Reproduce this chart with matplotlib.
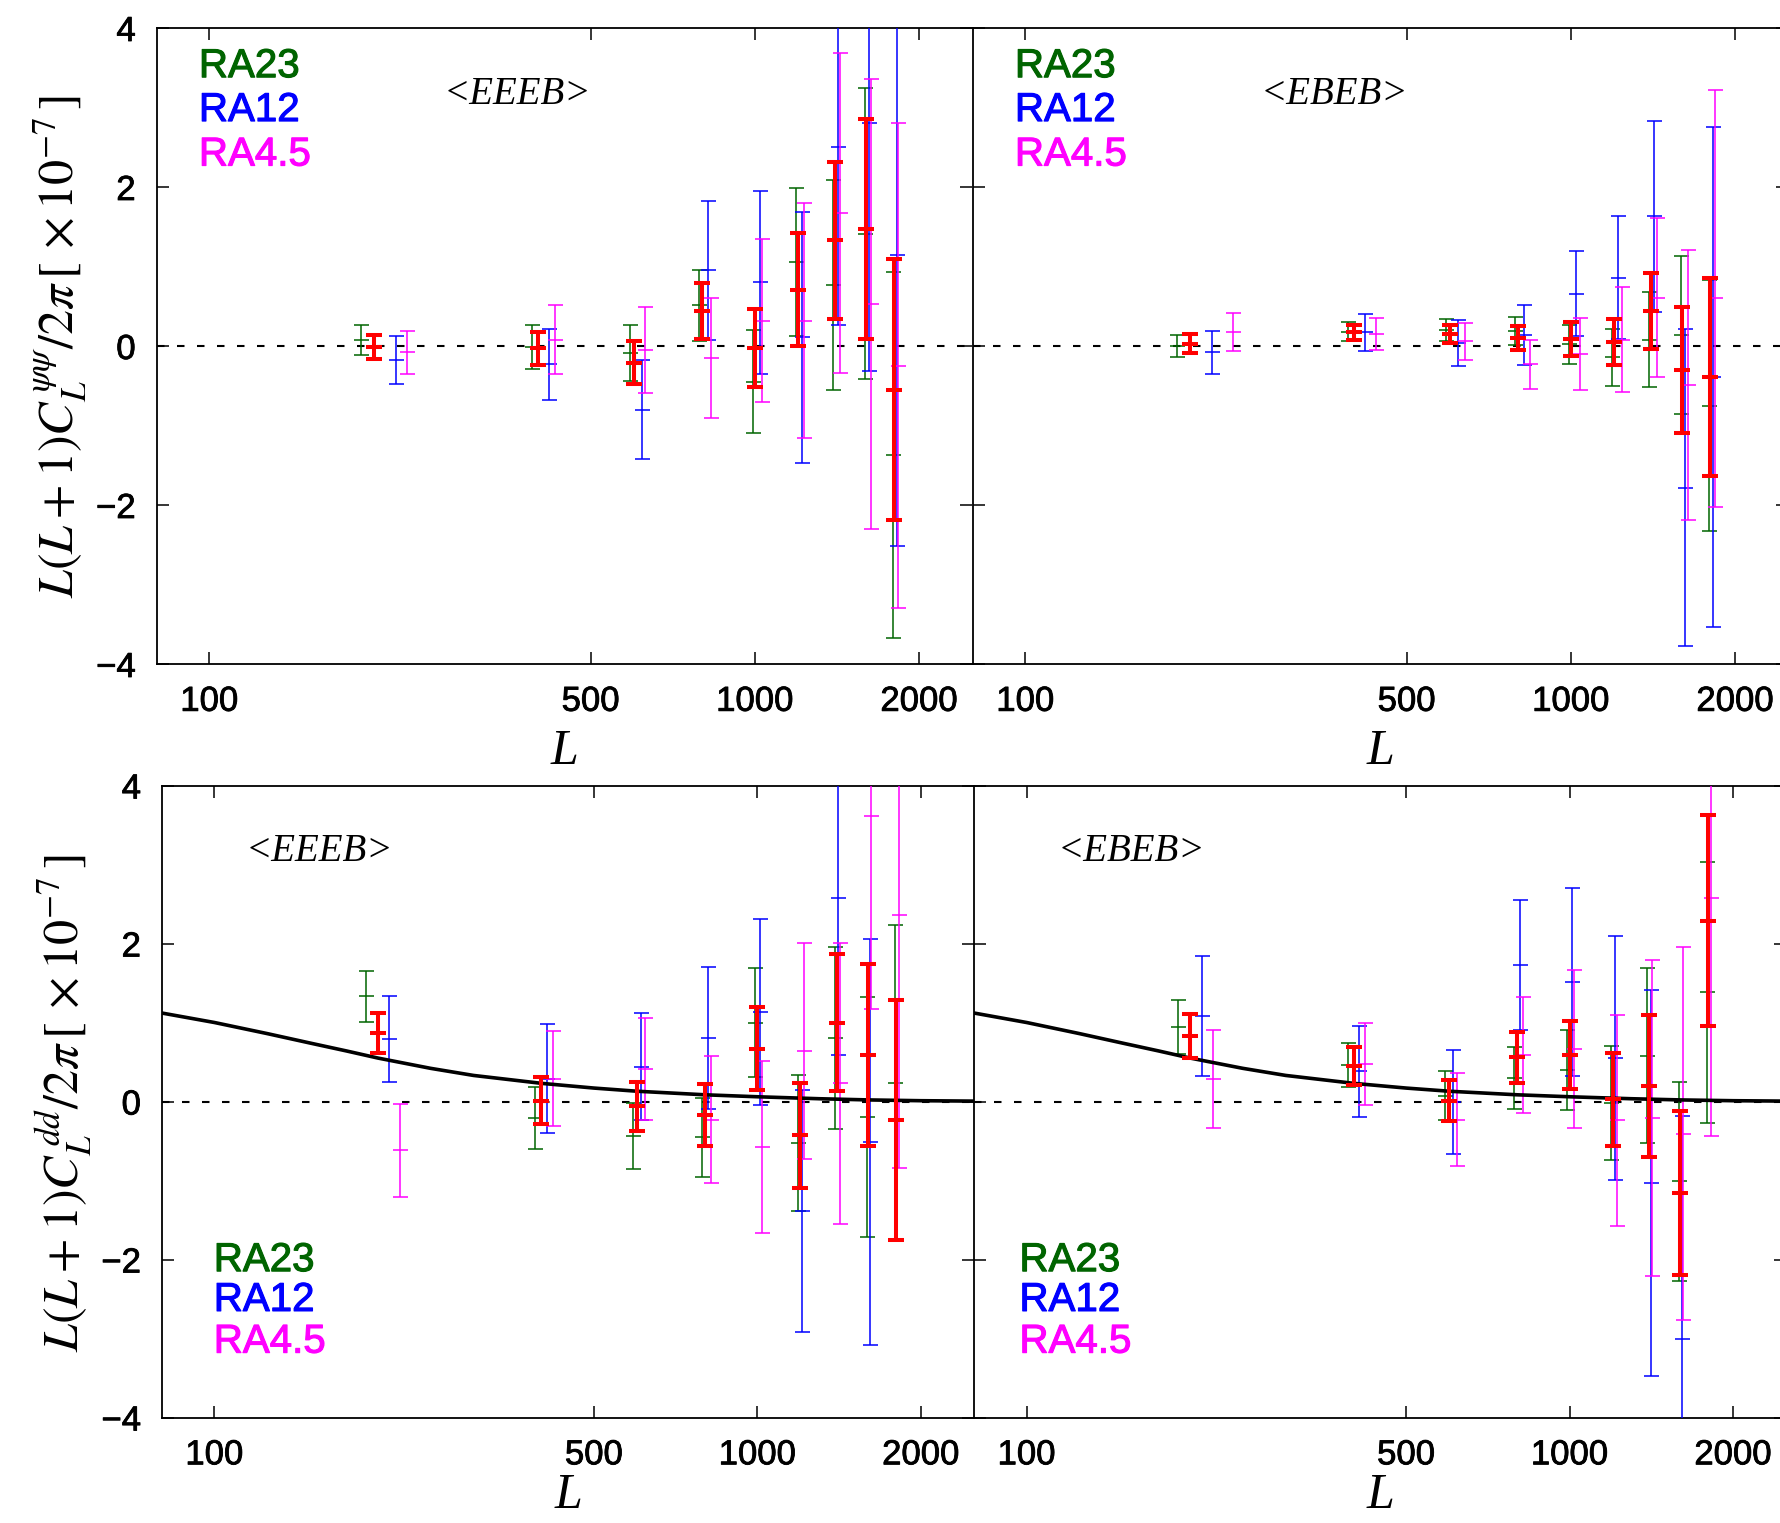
import numpy as np
import matplotlib
matplotlib.use("Agg")
import matplotlib.pyplot as plt
import matplotlib.patheffects as pe
from matplotlib.ticker import FixedLocator, FixedFormatter, NullLocator

plt.rcParams['font.family'] = ['Liberation Sans', 'DejaVu Sans']
plt.rcParams['mathtext.fontset'] = 'stix'

nan = np.nan

# ---------------------------------------------------------------- data
L_bins = [200, 400, 600, 800, 1000, 1200, 1400, 1600, 1800]
x_ticks = [100, 500, 1000, 2000]
x_tick_labels = ["100", "500", "1000", "2000"]
y_ticks = [-4, -2, 0, 2, 4]
y_tick_labels = ["\u22124", "\u22122", "0", "2", "4"]
series_names = ["RA23", "RA12", "RA4.5"]

# psi-psi, <EEEB>
pp_eeeb_ra23 = [0.08, -0.01, -0.09, 0.51, -0.45, 1.06, 0.77, 1.41, -1.37]
pp_eeeb_ra23_err = [0.19, 0.28, 0.35, 0.45, 0.65, 0.93, 1.32, 1.83, 2.30]
pp_eeeb_comb = [-0.01, -0.03, -0.21, 0.44, -0.03, 0.71, 1.33, 1.47, -0.55]
pp_eeeb_comb_err = [0.15, 0.21, 0.27, 0.35, 0.49, 0.71, 0.99, 1.38, 1.64]
pp_eeeb_ra12 = [-0.18, -0.23, -0.80, 0.95, 0.80, 0.11, 2.50, 2.80, 1.14]
pp_eeeb_ra12_err = [0.30, 0.45, 0.62, 0.87, 1.15, 1.58, 2.23, 3.12, 3.65]
pp_eeeb_ra45 = [-0.08, 0.08, -0.05, -0.15, 0.32, 0.32, 1.67, 0.53, -0.25]
pp_eeeb_ra45_err = [0.27, 0.43, 0.54, 0.75, 1.03, 1.48, 2.01, 2.83, 3.05]

# psi-psi, <EBEB>
pp_ebeb_ra23 = [0.00, 0.18, 0.20, 0.19, 0.02, -0.14, 0.08, 0.14, -0.75]
pp_ebeb_ra23_err = [0.14, 0.12, 0.14, 0.18, 0.25, 0.36, 0.60, 0.99, 1.58]
pp_ebeb_comb = [0.03, 0.17, 0.15, 0.10, 0.09, 0.05, 0.44, -0.30, -0.39]
pp_ebeb_comb_err = [0.12, 0.10, 0.11, 0.15, 0.21, 0.29, 0.48, 0.79, 1.25]
pp_ebeb_ra12 = [-0.08, 0.17, 0.04, 0.14, 0.66, 0.86, 1.63, -1.78, -0.39]
pp_ebeb_ra12_err = [0.27, 0.23, 0.29, 0.38, 0.53, 0.77, 1.20, 1.99, 3.15]
pp_ebeb_ra45 = [0.18, 0.15, 0.06, -0.23, -0.10, 0.08, 0.61, -0.49, 0.60]
pp_ebeb_ra45_err = [0.24, 0.20, 0.23, 0.31, 0.45, 0.66, 1.00, 1.70, 2.62]

# dd, <EEEB>
dd_eeeb_ra23 = [1.33, -0.21, -0.44, -0.45, 1.00, -0.53, 0.80, -0.20, 0.24]
dd_eeeb_ra23_err = [0.32, 0.39, 0.42, 0.50, 0.69, 0.86, 1.15, 1.52, 2.00]
dd_eeeb_comb = [0.87, 0.01, -0.06, -0.17, 0.67, -0.43, 1.00, 0.59, -0.23]
dd_eeeb_comb_err = [0.25, 0.30, 0.31, 0.39, 0.52, 0.66, 0.87, 1.15, 1.52]
dd_eeeb_ra12 = [0.79, 0.29, 0.44, 0.80, 1.13, -1.39, 2.57, -0.51, nan]
dd_eeeb_ra12_err = [0.54, 0.69, 0.68, 0.90, 1.18, 1.53, 1.98, 2.57, nan]
dd_eeeb_ra45 = [-0.62, 0.29, 0.41, -0.23, -0.58, 0.64, 0.23, 3.61, 2.36]
dd_eeeb_ra45_err = [0.59, 0.60, 0.65, 0.80, 1.09, 1.37, 1.78, 2.44, 3.20]

# dd, <EBEB>
dd_ebeb_ra23 = [0.94, 0.46, 0.07, 0.30, 0.40, -0.02, 0.58, -1.01, 1.38]
dd_ebeb_ra23_err = [0.34, 0.28, 0.31, 0.39, 0.51, 0.72, 1.11, 1.26, 1.65]
dd_ebeb_comb = [0.83, 0.45, 0.01, 0.56, 0.59, 0.03, 0.20, -1.16, 2.29]
dd_ebeb_comb_err = [0.28, 0.24, 0.26, 0.32, 0.43, 0.59, 0.90, 1.04, 1.34]
dd_ebeb_ra12 = [1.08, 0.38, -0.01, 1.73, 1.51, 0.55, -1.03, -3.01, nan]
dd_ebeb_ra12_err = [0.76, 0.58, 0.66, 0.82, 1.19, 1.54, 2.44, 2.83, nan]
dd_ebeb_ra45 = [0.28, 0.47, -0.23, 0.59, 0.67, -0.24, -0.21, -0.41, 2.58]
dd_ebeb_ra45_err = [0.62, 0.52, 0.59, 0.73, 1.00, 1.34, 2.00, 2.36, 3.02]

# fiducial dd spectrum
theory_L = [80, 100, 125, 150, 175, 200, 250, 300, 400, 500, 600, 800,
            1000, 1300, 1600, 2000, 2500]
theory_dd = [1.12, 1.00, 0.86, 0.74, 0.64, 0.55, 0.42, 0.33, 0.23, 0.17,
             0.13, 0.085, 0.06, 0.035, 0.02, 0.01, 0.005]

# ---------------------------------------------------------------- style
C_RA23 = '#006400'
C_RA12 = '#0000ff'
C_RA45 = '#ff00ff'
C_COMB = '#ff0000'

W, H = 1780, 1523
fig = plt.figure(figsize=(W / 100, H / 100), dpi=100)


def px_axes(x0, x1, y0, y1):
    return fig.add_axes([x0 / W, 1 - y1 / H, (x1 - x0) / W, (y1 - y0) / H])


ax_tl = px_axes(156.5, 972.0, 28, 664)
ax_tr = px_axes(972.5, 1788.0, 28, 664)
ax_bl = px_axes(161.8, 973.5, 785.5, 1417.5)
ax_br = px_axes(974.0, 1785.7, 785.5, 1417.5)

panels = [
    dict(ax=ax_tl, tag='<EEEB>', tag_x=0.443, legend=(0.052, [0.940, 0.871, 0.801]),
         shift=(-10, 20, 30), theory=False, left=True,
         data=[(pp_eeeb_ra23, pp_eeeb_ra23_err), (pp_eeeb_ra12, pp_eeeb_ra12_err),
               (pp_eeeb_ra45, pp_eeeb_ra45_err), (pp_eeeb_comb, pp_eeeb_comb_err)]),
    dict(ax=ax_tr, tag='<EBEB>', tag_x=0.444, legend=(0.052, [0.940, 0.871, 0.801]),
         shift=(-10, 20, 40), theory=False, left=False,
         data=[(pp_ebeb_ra23, pp_ebeb_ra23_err), (pp_ebeb_ra12, pp_ebeb_ra12_err),
               (pp_ebeb_ra45, pp_ebeb_ra45_err), (pp_ebeb_comb, pp_ebeb_comb_err)]),
    dict(ax=ax_bl, tag='<EEEB>', tag_x=0.194, legend=(0.064, [0.249, 0.186, 0.120]),
         shift=(-10, 10, 20), theory=True, left=True,
         data=[(dd_eeeb_ra23, dd_eeeb_ra23_err), (dd_eeeb_ra12, dd_eeeb_ra12_err),
               (dd_eeeb_ra45, dd_eeeb_ra45_err), (dd_eeeb_comb, dd_eeeb_comb_err)]),
    dict(ax=ax_br, tag='<EBEB>', tag_x=0.194, legend=(0.056, [0.249, 0.186, 0.120]),
         shift=(-10, 10, 20), theory=True, left=False,
         data=[(dd_ebeb_ra23, dd_ebeb_ra23_err), (dd_ebeb_ra12, dd_ebeb_ra12_err),
               (dd_ebeb_ra45, dd_ebeb_ra45_err), (dd_ebeb_comb, dd_ebeb_comb_err)]),
]

THIN_LW = 1.1
THICK_LW = 2.9
THIN_CAP = 5.4
THICK_CAP = 5.8


def heavy(color, w=0.7):
    return [pe.withStroke(linewidth=w, foreground=color)]


def draw_points(ax, x, y, err, color, lw, cap, z):
    x = np.asarray(x, float)
    y = np.asarray(y, float)
    err = np.asarray(err, float)
    ok = np.isfinite(y)
    ax.errorbar(x[ok], y[ok], yerr=err[ok], fmt='none', ecolor=color,
                elinewidth=lw, capsize=cap, capthick=lw, zorder=z)
    ax.plot(x[ok], y[ok], ls='none', marker='_', ms=2 * cap, mew=lw,
            color=color, zorder=z)


for p in panels:
    ax = p['ax']
    ax.set_xscale('log')
    ax.set_xlim(80, 2500)
    ax.set_ylim(-4, 4)
    ax.axhline(0, color='black', lw=1.5, dashes=(3.6, 6.0), zorder=1)
    if p['theory']:
        ax.plot(theory_L, theory_dd, color='black', lw=2.6, zorder=4,
                solid_capstyle='round')

    Lb = np.asarray(L_bins, float)
    colors = [C_RA23, C_RA12, C_RA45]
    for (vals, errs), dx, col in zip(p['data'][:3], p['shift'], colors):
        draw_points(ax, Lb + dx, vals, errs, col, THIN_LW, THIN_CAP, 3)
    comb, comb_err = p['data'][3]
    draw_points(ax, Lb, comb, comb_err, C_COMB, THICK_LW, THICK_CAP, 5)

    # axes cosmetics
    ax.xaxis.set_major_locator(FixedLocator(x_ticks))
    ax.xaxis.set_major_formatter(FixedFormatter(x_tick_labels))
    ax.xaxis.set_minor_locator(NullLocator())
    ax.yaxis.set_major_locator(FixedLocator(y_ticks))
    ax.yaxis.set_major_formatter(FixedFormatter(y_tick_labels))
    ax.yaxis.set_minor_locator(NullLocator())
    ax.tick_params(which='major', direction='in', length=8.5, width=1.1,
                   top=True, right=True, labelsize=25, pad=15,
                   labelleft=p['left'])
    for t in ax.xaxis.get_major_ticks() + ax.yaxis.get_major_ticks():
        t.label1.set_path_effects(heavy('black', 0.6))
    for s in ax.spines.values():
        s.set_linewidth(1.3)
    if p['left']:
        # the neighbouring panel supplies the shared divider line
        ax.spines['right'].set_visible(False)

    ax.text(p['tag_x'], 0.896, p['tag'], transform=ax.transAxes,
            ha='center', va='center', fontsize=28, style='italic',
            family=['Liberation Serif', 'DejaVu Serif'])
    lx, lys = p['legend']
    for name, col, ly in zip(series_names, colors, lys):
        ax.text(lx, ly, name, transform=ax.transAxes, ha='left', va='center',
                fontsize=29, color=col, path_effects=heavy(col, 0.8))

# axis titles
ylab_pp = r'$L(L+\mathit{1})C_L^{\,\psi\psi}/2\pi\,[\,\times10^{-7}\,]$'
ylab_dd = r'$L(L+\mathit{1})C_L^{\,dd}/2\pi\,[\,\times10^{-7}\,]$'
fig.text(60 / W, 1 - 346.5 / H, ylab_pp, rotation=90, ha='center', va='center',
         fontsize=36)
fig.text(64 / W, 1 - 1103 / H, ylab_dd, rotation=90, ha='center', va='center',
         fontsize=36)

for xc, yc in [(564, 752), (1380, 752), (568, 1496), (1380, 1496)]:
    fig.text(xc / W, 1 - yc / H, 'L', ha='center', va='center', fontsize=36,
             style='italic', family=['Liberation Serif', 'DejaVu Serif'])

fig.savefig('out.png', dpi=100)
